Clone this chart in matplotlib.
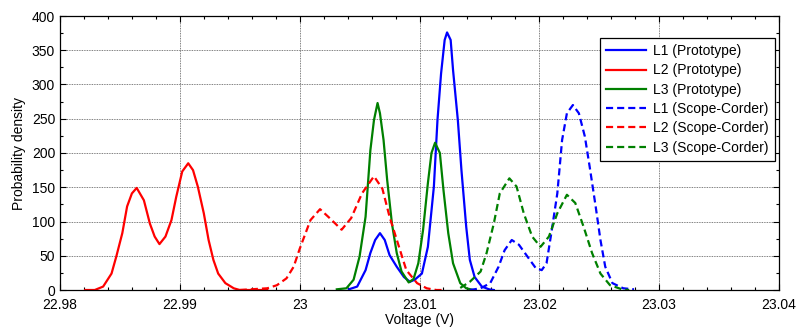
import matplotlib
matplotlib.use("Agg")
import matplotlib.pyplot as plt
from matplotlib.ticker import MultipleLocator

plt.rcParams['font.family'] = ['Liberation Sans', 'DejaVu Sans']

# ---- data ----
l1_proto_v = [23.0041, 23.0048, 23.0055, 23.0059, 23.0063, 23.0067, 23.0071, 23.0075, 23.0081,
              23.0087, 23.0092, 23.0096, 23.0102, 23.0107, 23.0112, 23.0115, 23.0118, 23.0121,
              23.0123, 23.0126, 23.0128, 23.0132, 23.0135, 23.0139, 23.0142, 23.0146, 23.0152,
              23.0158, 23.0162]
l1_proto_d = [1, 5, 29, 54, 73, 83, 73, 51, 34,
              19, 12, 15, 24, 63, 151, 248, 316, 365,
              376, 365, 321, 248, 175, 92, 44, 19, 5,
              1, 0]

l2_proto_v = [22.9821, 22.9829, 22.9836, 22.9843, 22.9847, 22.9852, 22.9856, 22.9860, 22.9864,
              22.9870, 22.9875, 22.9879, 22.9883, 22.9888, 22.9893, 22.9897, 22.9902, 22.9907,
              22.9911, 22.9915, 22.9920, 22.9924, 22.9928, 22.9932, 22.9938, 22.9945, 22.9950,
              22.9973]
l2_proto_d = [0, 0, 5, 24, 49, 83, 122, 141, 149,
              131, 97, 78, 67, 78, 102, 136, 173, 185,
              175, 151, 112, 73, 44, 24, 10, 2.5, 0,
              0]

l3_proto_v = [23.0031, 23.0039, 23.0045, 23.0050, 23.0055, 23.0059, 23.0062, 23.0065, 23.0067,
              23.0070, 23.0073, 23.0077, 23.0081, 23.0085, 23.0091, 23.0095, 23.0099, 23.0103,
              23.0107, 23.0110, 23.0113, 23.0117, 23.0120, 23.0124, 23.0128, 23.0134, 23.0139,
              23.0145]
l3_proto_d = [1, 2.5, 15, 49, 107, 204, 248, 273, 258,
              219, 161, 97, 54, 27, 11, 16, 39, 88,
              156, 200, 215, 200, 146, 83, 39, 10, 2.5,
              0]

l1_scope_v = [23.0142, 23.0151, 23.0159, 23.0166, 23.0171, 23.0177, 23.0183, 23.0190, 23.0197,
              23.0202, 23.0206, 23.0210, 23.0215, 23.0219, 23.0223, 23.0228, 23.0233, 23.0238,
              23.0242, 23.0247, 23.0251, 23.0255, 23.0261, 23.0270, 23.0279]
l1_scope_d = [0, 2.5, 10, 34, 58, 73, 66, 49, 32,
              29, 39, 83, 141, 219, 258, 270, 258, 224,
              180, 122, 73, 34, 10, 2.5, 1]

l2_scope_v = [22.9950, 22.9973, 22.9981, 22.9989, 22.9995, 23.0000, 23.0009, 23.0017, 23.0025,
              23.0035, 23.0043, 23.0052, 23.0062, 23.0069, 23.0075, 23.0082, 23.0089, 23.0098,
              23.0106, 23.0114, 23.0120]
l2_scope_d = [0, 2.5, 7, 17, 34, 60, 102, 118, 105,
              88, 105, 141, 166, 148, 107, 68, 29, 10,
              2.5, 0, 0]

l3_scope_v = [23.0134, 23.0142, 23.0151, 23.0156, 23.0162, 23.0167, 23.0175, 23.0181, 23.0187,
              23.0194, 23.0201, 23.0208, 23.0215, 23.0223, 23.0230, 23.0237, 23.0244, 23.0251,
              23.0259, 23.0269, 23.0275]
l3_scope_d = [3, 12, 27, 54, 97, 141, 163, 151, 112,
              78, 63, 78, 112, 139, 127, 92, 54, 24,
              7, 1, 0]

x_ticks = [22.98, 22.99, 23.00, 23.01, 23.02, 23.03, 23.04]
x_tick_labels = ['22.98', '22.99', '23', '23.01', '23.02', '23.03', '23.04']
y_ticks = [0, 50, 100, 150, 200, 250, 300, 350, 400]

# ---- figure ----
fig = plt.figure(figsize=(7.98, 3.29), dpi=100)
ax = fig.add_axes([60 / 798, 1 - 290 / 329, 719 / 798, 274 / 329])

fs = 10
lw = 1.6
dash = (0, (3.2, 1.8))
ax.plot(l1_proto_v, l1_proto_d, color='#0000ff', lw=lw, label='L1 (Prototype)')
ax.plot(l2_proto_v, l2_proto_d, color='#ff0000', lw=lw, label='L2 (Prototype)')
ax.plot(l3_proto_v, l3_proto_d, color='#008000', lw=lw, label='L3 (Prototype)')
ax.plot(l1_scope_v, l1_scope_d, color='#0000ff', lw=lw, ls=dash, label='L1 (Scope-Corder)')
ax.plot(l2_scope_v, l2_scope_d, color='#ff0000', lw=lw, ls=dash, label='L2 (Scope-Corder)')
ax.plot(l3_scope_v, l3_scope_d, color='#008000', lw=lw, ls=dash, label='L3 (Scope-Corder)')

ax.set_xlim(22.98, 23.04)
ax.set_ylim(0, 400)
ax.set_xticks(x_ticks)
ax.set_xticklabels(x_tick_labels)
ax.set_yticks(y_ticks)
ax.xaxis.set_minor_locator(MultipleLocator(0.002))
ax.yaxis.set_minor_locator(MultipleLocator(25))
ax.tick_params(which='both', direction='in', top=True, right=True, labelsize=fs, width=0.8)
ax.tick_params(which='major', length=4)
ax.tick_params(which='minor', length=2)
ax.tick_params(axis='x', which='major', pad=6)
ax.tick_params(axis='y', which='major', pad=3.5)
ax.grid(True, which='major', color='#555555', ls=(0, (1, 1)), lw=0.6)
for s in ax.spines.values():
    s.set_linewidth(0.9)

ax.set_xlabel('Voltage (V)', fontsize=fs, labelpad=0.5)
ax.set_ylabel('Probability density', fontsize=fs, labelpad=4)

leg = ax.legend(loc='upper right', bbox_to_anchor=(0.9985, 0.93), fontsize=fs, frameon=True,
                fancybox=False, edgecolor='black', framealpha=1, handlelength=2.9,
                handletextpad=0.5, labelspacing=0.38, borderpad=0.45, borderaxespad=0.2)
leg.get_frame().set_linewidth(0.9)

fig.savefig('out.png', dpi=100)
